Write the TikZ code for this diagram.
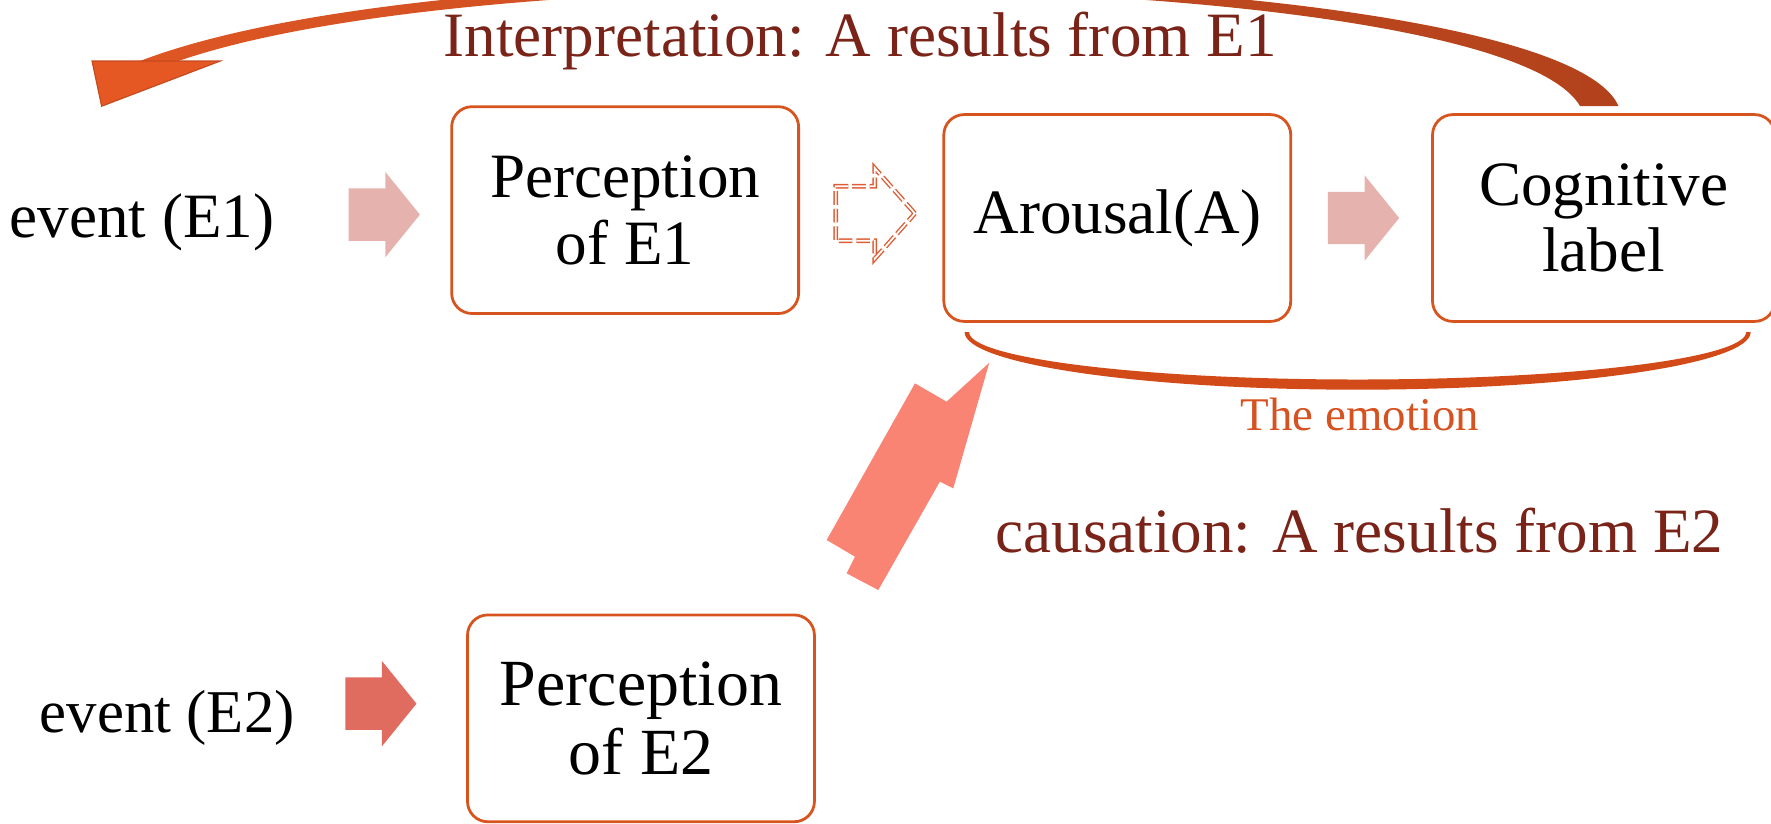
\documentclass[tikz,border=0pt]{standalone}
\usepackage{fontspec}
\setmainfont{Liberation Serif}
\usetikzlibrary{arrows.meta,positioning,shapes.arrows}
\definecolor{boxline}{RGB}{215,84,30}
\definecolor{pinkarr}{RGB}{230,178,173}
\definecolor{redarr}{RGB}{224,108,96}
\definecolor{salmonarr}{RGB}{250,132,116}
\definecolor{dashline}{RGB}{222,92,52}
\definecolor{emoline}{RGB}{210,74,24}
\definecolor{emotext}{RGB}{214,82,32}
\definecolor{darkred}{RGB}{122,35,24}
\definecolor{interphead}{RGB}{229,88,36}
\definecolor{interpleft}{RGB}{222,86,36}
\definecolor{interpright}{RGB}{178,66,28}
\newcommand\mainsize{\fontsize{15.9pt}{16.8pt}\selectfont}

\begin{document}
\begin{tikzpicture}[
  x=0.01cm, y=-0.01cm,
  box/.style={draw=boxline, line width=0.7pt, rounded corners=0.18cm, minimum width=3.07cm, minimum height=1.83cm, align=center, font=\mainsize, inner sep=0pt},
  txt/.style={font=\mainsize, inner sep=0pt},
  blk/.style={single arrow, draw=none, inner xsep=0pt, inner ysep=0.225cm, minimum height=0.63cm, minimum width=0.74cm, single arrow head extend=0.145cm, single arrow tip angle=102},
  dblk/.style={single arrow, draw=dashline, line width=0.35pt, double=white, double distance=0.45pt, dash pattern=on 0.12cm off 0.035cm, inner xsep=0pt, inner ysep=0.235cm, minimum height=0.70cm, minimum width=0.79cm, single arrow head extend=0.16cm, single arrow tip angle=97}
]
\useasboundingbox (0,0) rectangle (1568,729);
\clip (0,0) rectangle (1568,729);
\node[box] (p1) at (553.5,186) {Perception\\of E1};
\node[box, right=1.26cm of p1, yshift=-0.07cm] (a) {Arousal(A)};
\node[box, minimum width=3.03cm, right=1.23cm of a] (c) {Cognitive\\label};
\node[txt, left=1.55cm of p1, yshift=-0.11cm] (e1) {event (E1)};
\node[box, font=\fontsize{16.6pt}{17.5pt}\selectfont] (p2) at (567.5,636) {Perception\\of E2};
\node[txt, font=\fontsize{15.3pt}{16pt}\selectfont, left=1.51cm of p2] (e2) {event (E2)};

\node[blk, fill=pinkarr, left=0.26cm of p1, yshift=-0.04cm] (ar1) {};
\node[dblk, right=0.31cm of p1, yshift=-0.03cm] (ar2) {};
\node[blk, fill=pinkarr, right=0.31cm of a] (ar3) {};
\node[blk, fill=redarr, left=0.43cm of p2, yshift=0.13cm] (ar4) {};

\fill[salmonarr] (875.9,321.1) -- (838.1,355.6) -- (810.1,339.4) -- (731.9,478.1) -- (757.0,492.9) -- (749.6,507.6) -- (777.6,522.4) -- (832.2,426.4) -- (844.0,432.4) -- cycle;

\shade[left color=interpleft, right color=interpright] (124,54) .. controls (420,-60) and (1380,-30) .. (1433,94) -- (1399,94) .. controls (1330,-25) and (445,-45) .. (158,54) -- cycle;
\fill[interphead, draw=interpright!60!interphead, line width=0.3pt] (81.5,54) -- (195,54) -- (90,94) -- cycle;

\fill[emoline] (854,294) arc[start angle=180, end angle=0, x radius=348, y radius=51] -- (1546,294) arc[start angle=0, end angle=180, x radius=344, y radius=42] -- cycle;

\node[txt, text=darkred, anchor=base] (interp) at (761.5,50) {Interpretation: A results from E1};
\node[txt, text=darkred, anchor=base] (cause) at (1203.5,489) {causation: A results from E2};
\node[txt, text=emotext, font=\fontsize{11.8pt}{13pt}\selectfont, anchor=base] (emo) at (1204,381) {The emotion};
\end{tikzpicture}
\end{document}
